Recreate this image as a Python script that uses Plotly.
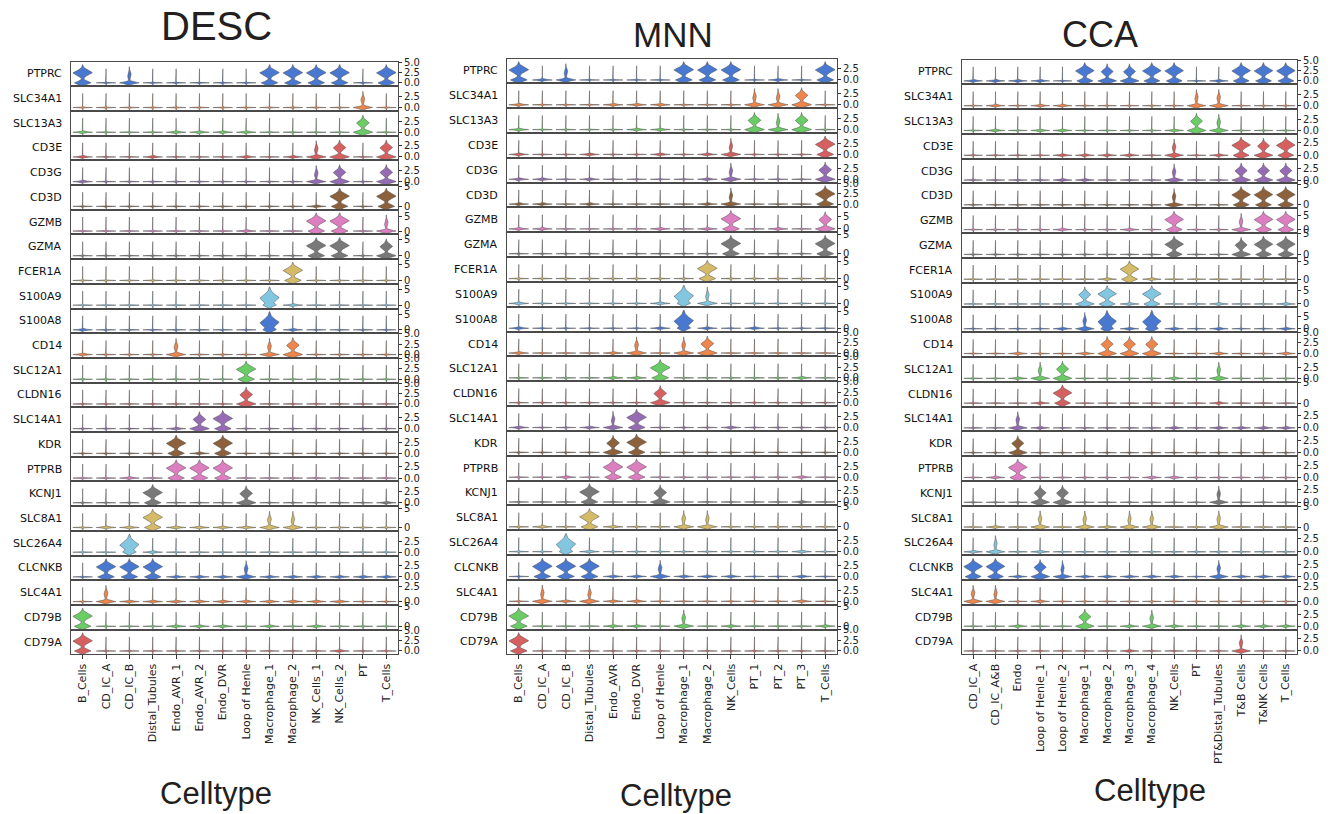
import numpy as np
import plotly.graph_objects as go

# ---------------- data ----------------
GENES = ["PTPRC", "SLC34A1", "SLC13A3", "CD3E", "CD3G", "CD3D", "GZMB", "GZMA",
         "FCER1A", "S100A9", "S100A8", "CD14", "SLC12A1", "CLDN16", "SLC14A1",
         "KDR", "PTPRB", "KCNJ1", "SLC8A1", "SLC26A4", "CLCNKB", "SLC4A1",
         "CD79B", "CD79A"]

DESC_CELLTYPES = ["B_Cells", "CD_IC_A", "CD_IC_B", "Distal_Tubules", "Endo_AVR_1",
                  "Endo_AVR_2", "Endo_DVR", "Loop of Henle", "Macrophage_1",
                  "Macrophage_2", "NK_Cells_1", "NK_Cells_2", "PT", "T_Cells"]
MNN_CELLTYPES = ["B_Cells", "CD_IC_A", "CD_IC_B", "Distal_Tubules", "Endo_AVR",
                 "Endo_DVR", "Loop of Henle", "Macrophage_1", "Macrophage_2",
                 "NK_Cells", "PT_1", "PT_2", "PT_3", "T_Cells"]
CCA_CELLTYPES = ["CD_IC_A", "CD_IC_A&B", "Endo", "Loop of Henle_1", "Loop of Henle_2",
                 "Macrophage_1", "Macrophage_2", "Macrophage_3", "Macrophage_4",
                 "NK_Cells", "PT", "PT&Distal_Tubules", "T&B Cells", "T&NK Cells",
                 "T_Cells"]

# expression-shape level per gene (rows) x cell type (cols):
# 0 none, 1 low, 2 small mode, 3 medium mode, 4 strong mode, 5 dominant mode
DESC_LEVELS = [
    [4, 0, 2, 0, 0, 0, 0, 0, 4, 4, 4, 4, 0, 4],
    [0, 0, 0, 0, 0, 0, 0, 0, 0, 0, 0, 0, 2, 0],
    [1, 0, 0, 0, 1, 1, 1, 1, 0, 0, 0, 0, 3, 0],
    [1, 0, 0, 1, 0, 0, 0, 1, 0, 1, 2, 3, 0, 3],
    [1, 0, 0, 0, 0, 0, 0, 0, 0, 0, 2, 3, 0, 3],
    [0, 0, 0, 0, 0, 0, 0, 0, 0, 0, 1, 4, 0, 4],
    [0, 0, 0, 0, 0, 0, 0, 1, 0, 0, 4, 4, 0, 2],
    [0, 0, 0, 0, 0, 0, 0, 0, 0, 0, 4, 4, 0, 3],
    [0, 0, 0, 0, 0, 0, 0, 0, 0, 4, 0, 0, 0, 0],
    [0, 0, 0, 0, 0, 0, 0, 0, 5, 1, 0, 0, 0, 0],
    [1, 0, 0, 0, 0, 0, 0, 0, 5, 1, 0, 0, 0, 0],
    [1, 0, 0, 0, 2, 0, 0, 0, 2, 3, 0, 0, 0, 0],
    [0, 0, 0, 0, 0, 0, 0, 4, 0, 0, 0, 0, 0, 0],
    [0, 0, 0, 0, 0, 0, 0, 3, 0, 0, 0, 0, 0, 0],
    [0, 0, 0, 0, 1, 3, 4, 0, 0, 0, 0, 0, 0, 0],
    [0, 0, 0, 0, 4, 1, 4, 0, 0, 0, 0, 0, 0, 0],
    [0, 0, 1, 0, 4, 4, 4, 0, 0, 0, 0, 0, 0, 0],
    [0, 0, 0, 4, 0, 0, 0, 3, 0, 0, 0, 0, 0, 1],
    [0, 1, 1, 4, 1, 1, 1, 1, 2, 2, 0, 0, 0, 0],
    [0, 0, 5, 1, 0, 0, 0, 0, 0, 0, 0, 0, 0, 0],
    [0, 4, 4, 4, 1, 1, 1, 2, 1, 1, 1, 1, 1, 1],
    [0, 2, 1, 1, 1, 1, 1, 1, 1, 1, 1, 1, 0, 0],
    [4, 0, 0, 0, 1, 1, 1, 0, 1, 0, 1, 0, 0, 0],
    [4, 0, 0, 0, 0, 0, 0, 0, 0, 0, 0, 1, 0, 0],
]
MNN_LEVELS = [
    [4, 1, 2, 0, 0, 0, 0, 4, 4, 4, 0, 1, 0, 4],
    [1, 0, 0, 0, 1, 1, 1, 0, 0, 0, 2, 2, 3, 0],
    [1, 0, 0, 0, 0, 1, 1, 0, 0, 0, 3, 2, 3, 0],
    [1, 0, 0, 1, 0, 0, 1, 0, 1, 2, 0, 0, 0, 4],
    [1, 1, 0, 1, 0, 0, 0, 0, 1, 2, 0, 0, 0, 3],
    [1, 1, 0, 1, 0, 0, 0, 0, 1, 2, 0, 0, 0, 4],
    [1, 1, 0, 0, 0, 0, 1, 0, 1, 4, 0, 1, 0, 3],
    [0, 0, 0, 0, 0, 0, 0, 0, 0, 4, 0, 0, 0, 4],
    [0, 0, 0, 0, 0, 0, 0, 0, 4, 0, 0, 0, 0, 0],
    [1, 0, 0, 0, 0, 0, 1, 5, 2, 0, 0, 0, 0, 0],
    [1, 0, 0, 0, 0, 0, 1, 5, 1, 0, 1, 0, 0, 0],
    [1, 0, 0, 0, 1, 2, 0, 2, 3, 0, 0, 0, 0, 0],
    [0, 0, 0, 0, 1, 1, 4, 0, 0, 0, 0, 0, 1, 0],
    [0, 0, 0, 0, 0, 0, 3, 0, 0, 0, 0, 0, 0, 0],
    [1, 0, 0, 1, 2, 4, 0, 0, 0, 1, 0, 0, 0, 0],
    [0, 0, 0, 0, 3, 4, 0, 0, 0, 0, 0, 0, 0, 0],
    [0, 0, 1, 0, 4, 4, 0, 0, 0, 0, 0, 0, 1, 0],
    [0, 0, 0, 4, 0, 0, 3, 0, 0, 0, 0, 0, 1, 0],
    [0, 1, 0, 4, 1, 0, 0, 2, 2, 0, 0, 0, 0, 0],
    [0, 0, 5, 1, 0, 0, 0, 0, 0, 0, 0, 0, 1, 0],
    [0, 4, 4, 4, 1, 1, 2, 1, 1, 1, 0, 0, 1, 0],
    [0, 2, 1, 2, 1, 1, 0, 0, 0, 0, 0, 0, 1, 0],
    [4, 0, 0, 0, 1, 1, 0, 2, 0, 1, 0, 0, 0, 1],
    [4, 0, 0, 0, 0, 0, 0, 0, 0, 0, 0, 0, 0, 0],
]
CCA_LEVELS = [
    [1, 1, 1, 1, 0, 4, 3, 3, 4, 4, 0, 1, 4, 4, 4],
    [0, 1, 0, 1, 1, 0, 0, 0, 0, 0, 2, 2, 0, 0, 0],
    [0, 1, 0, 1, 1, 0, 0, 0, 0, 1, 3, 2, 0, 0, 0],
    [0, 0, 0, 0, 1, 1, 1, 1, 0, 2, 0, 1, 4, 3, 4],
    [0, 0, 0, 0, 1, 1, 0, 0, 0, 2, 0, 0, 3, 3, 3],
    [0, 0, 0, 0, 0, 0, 0, 0, 0, 2, 0, 0, 4, 4, 4],
    [0, 0, 0, 0, 1, 0, 0, 1, 0, 4, 0, 0, 2, 4, 4],
    [0, 0, 0, 0, 0, 0, 0, 0, 0, 4, 0, 0, 3, 4, 4],
    [0, 0, 0, 0, 0, 0, 1, 4, 1, 0, 0, 0, 0, 0, 0],
    [0, 0, 0, 0, 0, 3, 4, 1, 4, 0, 0, 1, 0, 0, 1],
    [0, 0, 0, 0, 1, 2, 5, 1, 5, 1, 0, 1, 0, 0, 1],
    [0, 0, 1, 0, 0, 1, 3, 3, 3, 0, 0, 1, 0, 0, 1],
    [0, 0, 1, 2, 3, 0, 0, 0, 0, 1, 0, 2, 0, 0, 0],
    [0, 0, 0, 1, 4, 0, 0, 0, 0, 0, 0, 1, 0, 0, 0],
    [0, 0, 2, 1, 0, 0, 0, 0, 0, 1, 0, 1, 1, 1, 1],
    [0, 0, 3, 0, 0, 0, 0, 0, 0, 0, 0, 0, 0, 0, 0],
    [0, 1, 4, 0, 0, 0, 0, 0, 1, 1, 0, 0, 0, 0, 0],
    [0, 0, 0, 3, 3, 0, 0, 0, 0, 0, 0, 2, 0, 0, 0],
    [0, 1, 0, 2, 0, 2, 1, 2, 2, 0, 0, 2, 0, 0, 0],
    [1, 2, 0, 1, 0, 0, 0, 0, 0, 0, 0, 0, 0, 0, 0],
    [4, 4, 1, 3, 2, 1, 1, 1, 1, 1, 0, 2, 1, 1, 1],
    [2, 2, 0, 1, 0, 0, 0, 0, 0, 0, 0, 0, 0, 0, 0],
    [0, 0, 1, 0, 0, 3, 0, 1, 2, 1, 0, 0, 1, 1, 1],
    [0, 0, 0, 0, 0, 0, 0, 1, 0, 0, 0, 0, 2, 0, 0],
]

# upper limit of each row's expression axis and its tick step
DESC_YMAX = [5.2, 4.8, 4.8, 4.8, 4.8, 5.4, 7.5, 6.5, 6.5, 7.0, 7.0, 5.1,
             5.1, 5.1, 4.8, 4.8, 4.8, 4.8, 5.6, 4.8, 4.8, 3.6, 5.4, 5.1]
DESC_DTICK = [2.5, 2.5, 2.5, 2.5, 2.5, 5, 5, 5, 5, 5, 5, 2.5,
              2.5, 2.5, 2.5, 2.5, 2.5, 2.5, 5, 2.5, 2.5, 2.5, 5, 2.5]
MNN_YMAX = [4.8, 4.8, 4.8, 4.8, 4.8, 5.1, 8.5, 5.7, 6.1, 6.2, 6.3, 5.1,
            5.1, 5.1, 4.8, 4.8, 4.8, 4.8, 5.4, 4.8, 4.8, 4.8, 5.4, 5.1]
MNN_DTICK = [2.5, 2.5, 2.5, 2.5, 2.5, 2.5, 5, 5, 5, 5, 5, 2.5,
             2.5, 2.5, 2.5, 2.5, 2.5, 2.5, 5, 2.5, 2.5, 2.5, 5, 2.5]
CCA_YMAX = [5.2, 4.8, 4.8, 4.3, 4.8, 5.2, 7.75, 5.2, 6.1, 8.2, 8.4, 5.05,
            4.9, 5.25, 4.3, 4.3, 4.6, 4.3, 5.15, 4.1, 4.3, 3.55, 4.6, 4.3]
CCA_DTICK = [2.5, 2.5, 2.5, 2.5, 2.5, 5, 5, 5, 5, 5, 5, 2.5,
             2.5, 5, 2.5, 2.5, 2.5, 2.5, 5, 2.5, 2.5, 2.5, 2.5, 2.5]

PALETTE = ["#4878d0", "#ee854a", "#6acc64", "#d65f5f", "#956cb4",
           "#8c613c", "#dc7ec0", "#797979", "#d5bb67", "#82c6e2"]

# ---------------- style / geometry ----------------
W, H = 1331, 814
PANELS = [
    dict(title="DESC", cells=DESC_CELLTYPES, levels=DESC_LEVELS, ymax=DESC_YMAX,
         dtick=DESC_DTICK, x0=71, x1=398, top=57, bot=655,
         tpos=(216, 21), tsize=40, cpos=(216, 795)),
    dict(title="MNN", cells=MNN_CELLTYPES, levels=MNN_LEVELS, ymax=MNN_YMAX,
         dtick=MNN_DTICK, x0=507, x1=837, top=54, bot=655,
         tpos=(673, 30), tsize=35, cpos=(676, 797)),
    dict(title="CCA", cells=CCA_CELLTYPES, levels=CCA_LEVELS, ymax=CCA_YMAX,
         dtick=CCA_DTICK, x0=962, x1=1297, top=55, bot=655,
         tpos=(1100, 30), tsize=36, cpos=(1150, 792)),
]

# shape parameters per level (fractions of the row maximum)
SHAPES = {
    0: dict(wb=1.0, sb=0.012, wt=0.0, c=0.0, st=0.1, hs=0.66),
    1: dict(wb=1.0, sb=0.026, wt=0.0, c=0.0, st=0.1, hs=0.66),
    2: dict(wb=1.0, sb=0.055, wt=0.22, c=0.36, st=0.15, hs=0.76),
    3: dict(wb=1.0, sb=0.085, wt=0.65, c=0.43, st=0.14, hs=0.8),
    4: dict(wb=0.85, sb=0.095, wt=1.0, c=0.47, st=0.15, hs=0.86),
    5: dict(wb=0.55, sb=0.08, wt=1.0, c=0.34, st=0.22, hs=0.86),
}
HALF = 0.42


def violin_profile(level, ymax):
    s = SHAPES[level]
    top = s["hs"]
    y = np.linspace(-0.16, top, 110)
    base = s["wb"] * np.exp(-(np.abs(y) / s["sb"]) ** 1.5)
    body = s["wt"] * np.exp(-(np.abs(y - s["c"]) / s["st"]) ** 1.5) if s["wt"] > 0 else 0 * y
    stalk = np.where(y >= 0, 0.01 * (1 - 0.7 * y / top), 0.0)
    w = base + body + stalk
    w = w / w.max()
    return y * ymax, w * HALF


fig = go.Figure()
layout = {}
annotations = []

for p, pan in enumerate(PANELS):
    n = len(pan["cells"])
    h = (pan["bot"] - pan["top"]) / len(GENES)
    for r, gene in enumerate(GENES):
        idx = p * len(GENES) + r + 1
        sfx = "" if idx == 1 else str(idx)
        ymax = pan["ymax"][r]
        dt = pan["dtick"][r]
        color = PALETTE[r % len(PALETTE)]
        xs, ys = [], []
        for i, lvl in enumerate(pan["levels"][r]):
            yy, ww = violin_profile(lvl, ymax)
            xs += list(i + ww) + list((i - ww)[::-1]) + [None]
            ys += list(yy) + list(yy[::-1]) + [None]
        fig.add_trace(go.Scatter(
            x=xs, y=ys, xaxis="x" + sfx, yaxis="y" + sfx, mode="lines",
            fill="toself", fillcolor=color,
            line=dict(color="rgba(80,80,80,0.85)", width=0.6),
            hoverinfo="skip", showlegend=False))
        last = r == len(GENES) - 1
        layout["xaxis" + sfx] = dict(
            domain=[pan["x0"] / W, pan["x1"] / W], anchor="y" + sfx,
            range=[-0.5, n - 0.5], showline=True, mirror=True,
            linecolor="#4a4a4a", linewidth=1, showgrid=False, zeroline=False,
            tickmode="array", tickvals=list(range(n)), ticktext=pan["cells"],
            showticklabels=last, ticks="outside" if last else "",
            ticklen=4, tickcolor="#333", tickangle=-90,
            tickfont=dict(family="DejaVu Sans", size=11, color="#222"))
        y_top = 1 - (pan["top"] + r * h) / H
        y_bot = 1 - (pan["top"] + (r + 1) * h) / H
        layout["yaxis" + sfx] = dict(
            domain=[y_bot, y_top], anchor="x" + sfx, side="right",
            range=[-0.16 * ymax, ymax], tickmode="linear", tick0=0, dtick=dt,
            tickformat=".1f" if dt == 2.5 else ".0f",
            ticks="outside", ticklen=3, tickcolor="#333",
            showline=True, mirror=True, linecolor="#4a4a4a", linewidth=1,
            showgrid=False, zeroline=False,
            tickfont=dict(family="DejaVu Sans", size=10, color="#222"))
        annotations.append(dict(
            text=gene, xref="paper", yref="paper",
            x=(pan["x0"] - 7) / W, y=(y_top + y_bot) / 2,
            xanchor="right", yanchor="middle", showarrow=False,
            font=dict(family="DejaVu Sans", size=11, color="#111")))
    annotations.append(dict(
        text=pan["title"], xref="paper", yref="paper",
        x=pan["tpos"][0] / W, y=1 - pan["tpos"][1] / H,
        xanchor="center", yanchor="middle", showarrow=False,
        font=dict(family="Liberation Sans", size=pan["tsize"], color="#231f20")))
    annotations.append(dict(
        text="Celltype", xref="paper", yref="paper",
        x=pan["cpos"][0] / W, y=1 - pan["cpos"][1] / H,
        xanchor="center", yanchor="middle", showarrow=False,
        font=dict(family="Liberation Sans", size=31, color="#231f20")))

fig.update_layout(
    width=W, height=H, margin=dict(l=0, r=0, t=0, b=0),
    paper_bgcolor="white", plot_bgcolor="white",
    annotations=annotations, **layout)

fig.write_html("out.html", config={"displayModeBar": False},
               post_script="document.body.style.margin='0';"
                           "document.body.style.overflow='hidden';")
